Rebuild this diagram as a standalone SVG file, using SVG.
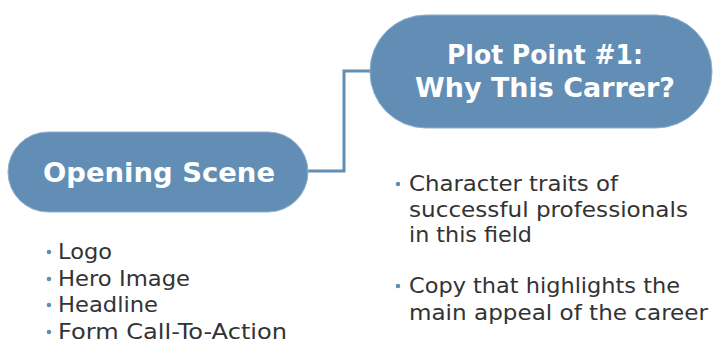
<svg xmlns="http://www.w3.org/2000/svg" width="715" height="343" viewBox="0 0 715 343">
<style>
.pill{fill:#628eb5;stroke:#8fb0cc;stroke-width:1}
.title{font-family:"DejaVu Sans","Liberation Sans",sans-serif;font-weight:700;font-size:27px;fill:#ffffff;text-anchor:middle}
.item{font-family:"DejaVu Sans","Liberation Sans",sans-serif;font-size:21px;fill:#333333}
.dot{fill:#628eb5}
.conn{fill:none;stroke:#628eb5;stroke-width:3}
</style>
<rect width="715" height="343" fill="#ffffff"/>
<g id="connectors">
<path class="conn" d="M308 171 H344 V71 H372"/>
</g>
<g id="opening-scene">
<rect class="pill" x="8" y="132" width="300" height="80" rx="40"/>
<text class="title" x="159" y="182" textLength="232" lengthAdjust="spacingAndGlyphs">Opening Scene</text>
</g>
<g id="plot-point">
<rect class="pill" x="370" y="15" width="342" height="113" rx="56"/>
<text class="title" x="545" y="64" textLength="196" lengthAdjust="spacingAndGlyphs">Plot Point #1:</text>
<text class="title" x="545" y="97" textLength="260" lengthAdjust="spacingAndGlyphs">Why This Carrer?</text>
</g>
<g id="opening-items">
<circle class="dot" cx="49" cy="252" r="2.3"/><text class="item" x="58" y="259" textLength="54" lengthAdjust="spacingAndGlyphs">Logo</text>
<circle class="dot" cx="49" cy="279" r="2.3"/><text class="item" x="58" y="286" textLength="132" lengthAdjust="spacingAndGlyphs">Hero Image</text>
<circle class="dot" cx="49" cy="305" r="2.3"/><text class="item" x="58" y="312" textLength="100" lengthAdjust="spacingAndGlyphs">Headline</text>
<circle class="dot" cx="49" cy="332" r="2.3"/><text class="item" x="58" y="339" textLength="229" lengthAdjust="spacingAndGlyphs">Form Call-To-Action</text>
</g>
<g id="plot-items">
<circle class="dot" cx="398" cy="184" r="2.3"/><text class="item" x="409" y="191" textLength="209" lengthAdjust="spacingAndGlyphs">Character traits of</text>
<text class="item" x="409" y="217" textLength="279" lengthAdjust="spacingAndGlyphs">successful professionals</text>
<text class="item" x="409" y="242" textLength="123" lengthAdjust="spacingAndGlyphs">in this field</text>
<circle class="dot" cx="398" cy="286" r="2.3"/><text class="item" x="409" y="293" textLength="271" lengthAdjust="spacingAndGlyphs">Copy that highlights the</text>
<text class="item" x="409" y="320" textLength="299" lengthAdjust="spacingAndGlyphs">main appeal of the career</text>
</g>
</svg>
